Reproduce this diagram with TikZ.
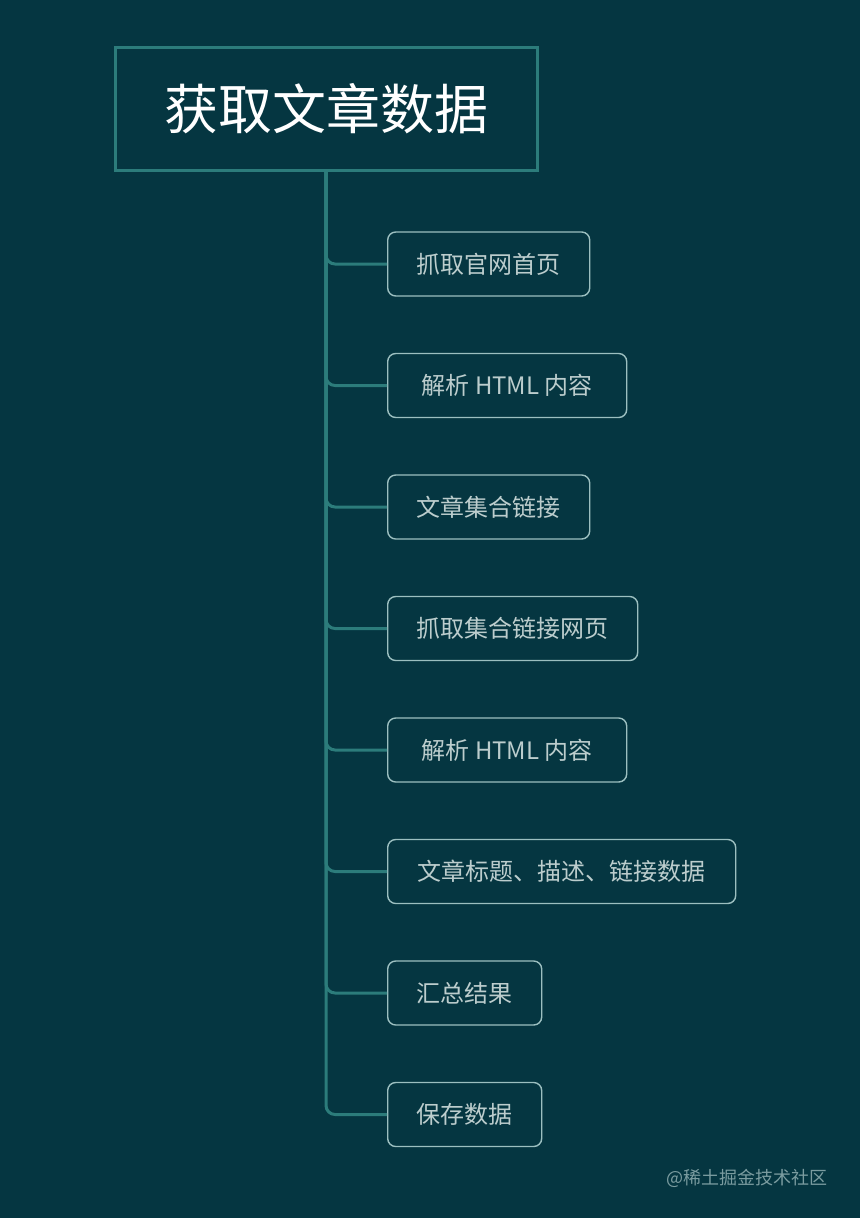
\documentclass[tikz,border=0pt]{standalone}
\usepackage{fontspec}
\setmainfont{Noto Sans CJK SC}
\usetikzlibrary{positioning}
\definecolor{bgcol}{HTML}{053641}
\definecolor{trunkcol}{HTML}{2C7C7B}
\definecolor{boxcol}{HTML}{9CBFC0}
\definecolor{textcol}{HTML}{BCCDCD}
\definecolor{markcol}{HTML}{7B9CA0}
\tikzstyle{root} = [draw=trunkcol,line width=3pt,text=white,minimum width=422pt,minimum height=123pt,font=\fontsize{54}{60}\selectfont]
\tikzstyle{stepbox} = [draw=boxcol,line width=1.4pt,rounded corners=8pt,text=textcol,anchor=west,minimum height=64pt,inner xsep=29pt,font=\fontsize{24}{28}\selectfont]
\tikzstyle{branch} = [draw=trunkcol,line width=3pt,rounded corners=9pt]

\begin{document}
\begin{tikzpicture}[x=1pt,y=-1pt]
				\fill[bgcol] (0,0) rectangle (860,1218);
				\useasboundingbox (0,0) rectangle (860,1218);
				\node[root] (top) at (326, 108.5) {获取文章数据};

				\foreach \name/ \y /\w /\label in {b1/264/202/抓取官网首页, b2/385.5/239/解析 HTML 内容, b3/507/202/文章集合链接, b4/628.5/250/抓取集合链接网页, b5/750/239/解析 HTML 内容, b6/871.5/348/文章标题、描述、链接数据, b7/993/153/汇总结果, b8/1114.5/153/保存数据}
				{
				\node[stepbox,minimum width=\w pt] (\name) at (387, \y) {\label};
				\path[branch] (top.south) |- (\name.west);
				}

				\node[text=markcol,anchor=east,font=\fontsize{18}{22}\selectfont] (mark) at (831, 1178) {@稀土掘金技术社区};
			\end{tikzpicture}
\end{document}
